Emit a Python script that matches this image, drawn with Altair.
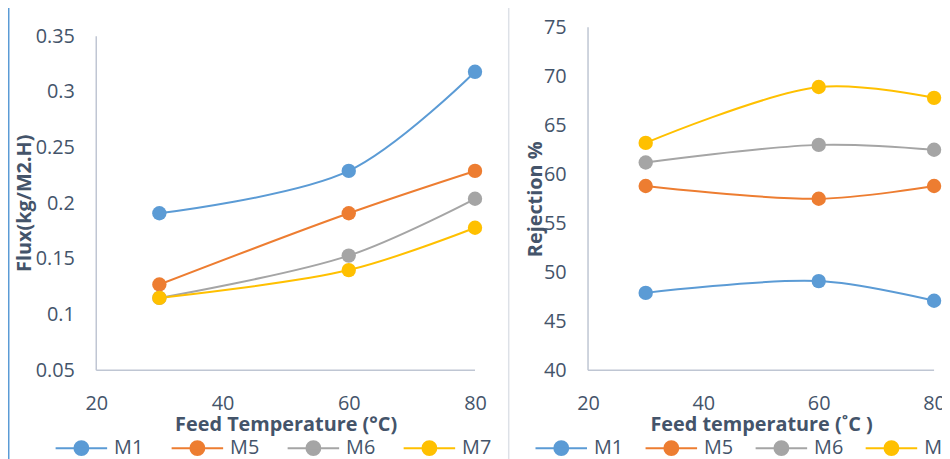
import altair as alt
import pandas as pd

temps = [30, 60, 80]
series = ["M1", "M5", "M6", "M7"]
colors = ["#5B9BD5", "#ED7D31", "#A5A5A5", "#FFC000"]

flux_M1 = [0.191, 0.229, 0.318]
flux_M5 = [0.127, 0.191, 0.229]
flux_M6 = [0.115, 0.153, 0.204]
flux_M7 = [0.115, 0.140, 0.178]

rej_M1 = [47.9, 49.1, 47.1]
rej_M5 = [58.8, 57.5, 58.8]
rej_M6 = [61.2, 63.0, 62.5]
rej_M7 = [63.2, 68.9, 67.8]

flux_ticks = [0.05, 0.1, 0.15, 0.2, 0.25, 0.3, 0.35]
rej_ticks = [40, 45, 50, 55, 60, 65, 70, 75]
x_ticks = [20, 40, 60, 80]

def frame(vals):
    rows = []
    for name, v in zip(series, vals):
        for t, y in zip(temps, v):
            rows.append({"T": t, "V": y, "S": name})
    return pd.DataFrame(rows)

flux_df = frame([flux_M1, flux_M5, flux_M6, flux_M7])
rej_df = frame([rej_M1, rej_M5, rej_M6, rej_M7])

FONT = "Open Sans"
TXT = "#44546A"
AX = "#BFC6D3"
LEG_SYM = "M-1,0H1M0.27,0A0.27,0.27 0 1,1 -0.27,0A0.27,0.27 0 1,1 0.27,0Z"

def panel(df, ymin, ymax, ydom_max, yticks, ytitle, xtitle, w, h, title_x, title_y,
          fmt, leg_x, leg_y, col_pad, frames):
    xscale = alt.Scale(domain=[20, 80], nice=False, zero=False)
    yscale = alt.Scale(domain=[ymin, ydom_max], nice=False, zero=False)
    color = alt.Color("S:N", scale=alt.Scale(domain=series, range=colors),
                      legend=alt.Legend(orient="none", direction="horizontal",
                                        legendX=leg_x, legendY=leg_y, title=None,
                                        symbolType=LEG_SYM, symbolSize=2700,
                                        symbolStrokeWidth=2, labelFontSize=20,
                                        labelFont=FONT, labelColor=TXT,
                                        columnPadding=col_pad, labelOffset=6))
    xaxis = alt.Axis(values=x_ticks, title=xtitle, ticks=False, grid=False,
                     labelFlush=False,
                     labelPadding=24, labelFontSize=20, labelFont=FONT,
                     labelColor=TXT, titleFont=FONT, titleFontSize=20,
                     titleColor=TXT, titleFontWeight="bold", titlePadding=1,
                     domain=False)
    yaxis = alt.Axis(values=yticks, title=ytitle, ticks=False, grid=False,
                     domain=False, format=fmt, labelFlush=False,
                     labelPadding=22, labelFontSize=20, labelFont=FONT,
                     labelColor=TXT, titleFont=FONT, titleFontSize=20,
                     titleColor=TXT, titleFontWeight="bold",
                     titleX=title_x, titleY=title_y)
    x = alt.X("T:Q", scale=xscale, axis=xaxis)
    y = alt.Y("V:Q", scale=yscale, axis=yaxis)
    base = alt.Chart(df)
    line = base.mark_line(interpolate="catmull-rom", strokeWidth=2).encode(x=x, y=y, color=color)
    pts = base.mark_point(filled=True, size=210, opacity=1).encode(x=x, y=y, color=color)
    ax_df = pd.DataFrame({"a": [ymin], "b": [ymax], "x0": [20], "x1": [80]})
    yline = alt.Chart(ax_df).mark_rule(color=AX, strokeWidth=1.5).encode(
        x=alt.X("x0:Q", scale=xscale, axis=xaxis),
        y=alt.Y("a:Q", scale=yscale, axis=yaxis), y2="b:Q")
    xline = alt.Chart(ax_df).mark_rule(color=AX, strokeWidth=1.5).encode(
        x=alt.X("x0:Q", scale=xscale, axis=xaxis), x2="x1:Q",
        y=alt.Y("a:Q", scale=yscale, axis=yaxis))
    layers = [yline, xline]
    for fx, fc, fw in frames:
        layers.append(alt.Chart(ax_df).mark_rule(color=fc, strokeWidth=fw).encode(
            x=alt.value(fx), y=alt.value(-30), y2=alt.value(460)))
    layers += [line, pts]
    return alt.layer(*layers).properties(width=w, height=h)

left = panel(flux_df, 0.05, 0.35, 0.35 + 9 / 56.25 * 0.05, flux_ticks,
             "Flux(kg/M2.H)", "Feed Temperature (°C)", 382, 346, -62, 177, ".2~f",
             -42, 397, 24, [(-88.5, "#5B9BD5", 2), (-91, "#D9DDE3", 1), (416, "#DDE1E7", 1.5)])
right = panel(rej_df, 40, 75, 75, rej_ticks,
              "Rejection %", "Feed temperature (˚C )", 349, 346, -43, 173, "d",
              -54, 397, 18, [])

chart = alt.hconcat(left, right, spacing=16).resolve_scale(
    color="shared", x="independent", y="independent").resolve_legend(
    color="independent").configure_view(stroke=None).properties(
    autosize=alt.AutoSizeParams(type="none"),
    padding={"left": 89, "top": 16, "right": 853, "bottom": 435})

chart.save("out.html", embed_options={"renderer": "svg", "actions": False})
